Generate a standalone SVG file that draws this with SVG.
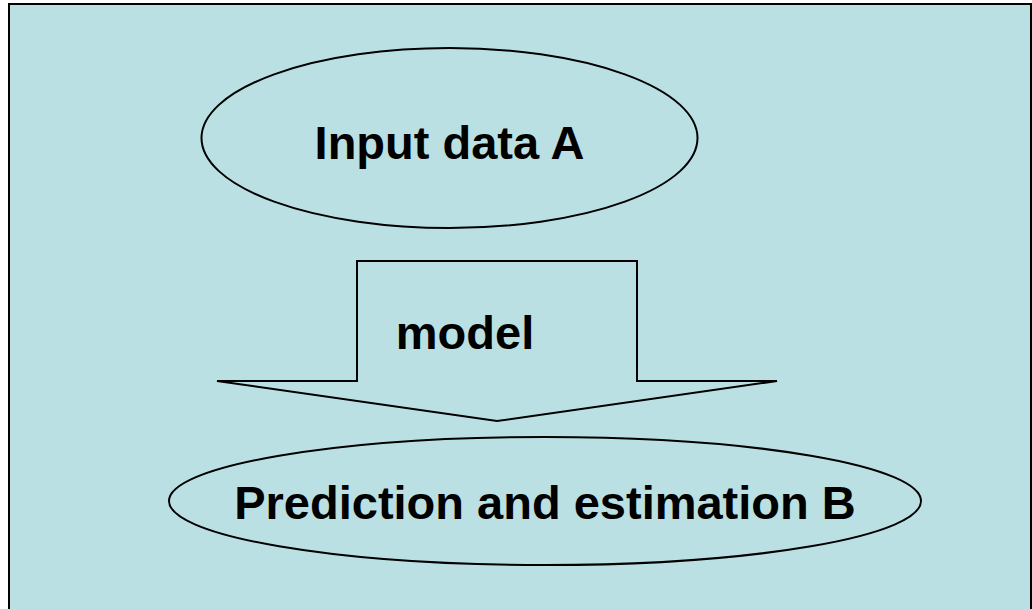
<svg xmlns="http://www.w3.org/2000/svg" width="1032" height="609" viewBox="0 0 1032 609">
<style>
.shape{fill:#BBE0E3;stroke:#000;stroke-width:2}
.lbl{font-family:"Liberation Sans",Arial,sans-serif;font-weight:bold;font-size:47px;fill:#000;text-anchor:middle}
</style>
<rect x="0" y="0" width="1032" height="609" fill="#fff"/>
<rect x="9" y="4" width="1022" height="620" fill="#BBE0E3" stroke="#000" stroke-width="2"/>
<g id="connectors">
<g id="model-arrow">
<path class="shape" d="M357,261 L637,261 L637,381 L777,381 L497,421 L217,381 L357,381 Z"/>
<text class="lbl" x="465" y="349">model</text>
</g>
</g>
<g id="node-input">
<ellipse class="shape" cx="449.5" cy="138" rx="248" ry="90"/>
<text class="lbl" x="449.5" y="159">Input data A</text>
</g>
<g id="node-prediction">
<ellipse class="shape" cx="545" cy="501" rx="376" ry="64"/>
<text class="lbl" x="545" y="519">Prediction and estimation B</text>
</g>
</svg>
